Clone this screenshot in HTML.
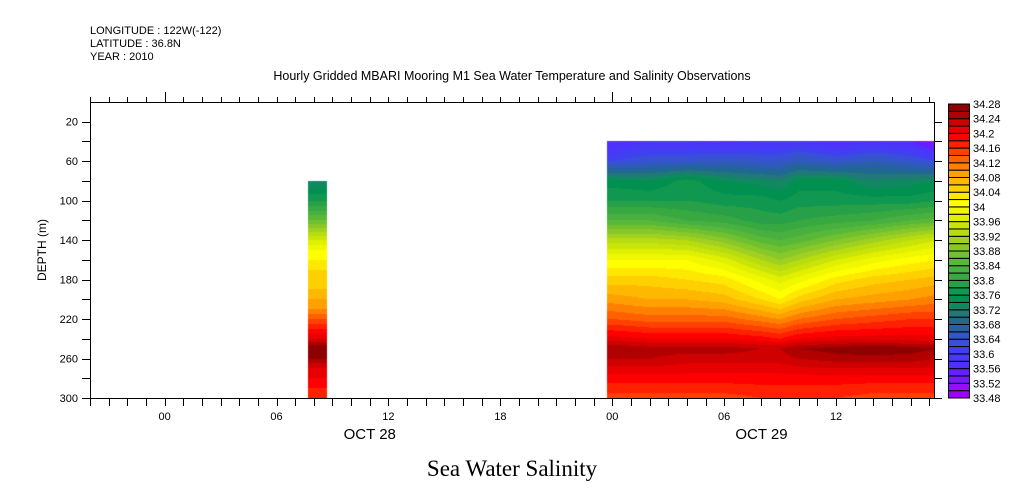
<!DOCTYPE html>
<html><head><meta charset="utf-8"><style>
html,body{margin:0;padding:0;background:#fff;}
body{width:1009px;height:504px;position:relative;overflow:hidden;font-family:"Liberation Sans",sans-serif;}
svg{position:absolute;left:0;top:0;}
</style></head><body>
<svg id="chart" width="1009" height="504" xmlns="http://www.w3.org/2000/svg">
  <g font-size="11" fill="#000">
    <text x="90" y="34">LONGITUDE : 122W(-122)</text>
    <text x="90" y="47">LATITUDE : 36.8N</text>
    <text x="90" y="60">YEAR : 2010</text>
  </g>
  <text x="512" y="80" text-anchor="middle" font-size="12.5">Hourly Gridded MBARI Mooring M1 Sea Water Temperature and Salinity Observations</text>
  <foreignObject x="90" y="102" width="844" height="296">
    <canvas id="cv" width="844" height="296" xmlns="http://www.w3.org/1999/xhtml" style="display:block"></canvas>
  </foreignObject>
  <g id="axes"></g>
  <g id="cbar"></g>
  <text transform="translate(46,250) rotate(-90)" text-anchor="middle" font-size="12">DEPTH (m)</text>
  <text x="512" y="476" text-anchor="middle" font-family="Liberation Serif, serif" font-size="23">Sea Water Salinity</text>
</svg>
<script>
const depths=[40,60,80,100,120,140,160,180,200,220,240,250,260,280,300];
const hours=[24,26,28,30,32,33,34,36,38,40,41.5];
const salinity=[
[33.56,33.58,33.58,33.57,33.58,33.58,33.58,33.56,33.57,33.56,33.50],
[33.62,33.64,33.64,33.65,33.64,33.64,33.66,33.64,33.66,33.64,33.62],
[33.75,33.74,33.77,33.74,33.73,33.72,33.75,33.75,33.72,33.73,33.74],
[33.78,33.78,33.78,33.77,33.77,33.76,33.77,33.77,33.77,33.77,33.78],
[33.84,33.84,33.82,33.81,33.79,33.79,33.80,33.81,33.82,33.84,33.85],
[33.93,33.93,33.92,33.89,33.85,33.84,33.85,33.88,33.91,33.94,33.96],
[34.00,34.00,34.00,33.97,33.92,33.90,33.92,33.96,33.99,34.01,34.02],
[34.05,34.05,34.04,34.03,33.99,33.97,33.99,34.03,34.05,34.06,34.07],
[34.09,34.08,34.08,34.07,34.04,34.02,34.05,34.08,34.09,34.10,34.11],
[34.14,34.13,34.13,34.13,34.11,34.10,34.12,34.14,34.15,34.16,34.16],
[34.21,34.20,34.20,34.20,34.19,34.18,34.20,34.21,34.21,34.21,34.21],
[34.26,34.25,34.25,34.25,34.24,34.24,34.26,34.27,34.28,34.27,34.26],
[34.24,34.24,34.23,34.23,34.23,34.23,34.24,34.25,34.25,34.25,34.24],
[34.19,34.19,34.19,34.19,34.19,34.19,34.19,34.19,34.19,34.19,34.19],
[34.15,34.15,34.15,34.15,34.16,34.16,34.16,34.16,34.15,34.15,34.15]];
const stripHour=8;
const stripDepths=[80,100,120,140,150,170,190,210,220,230,240,250,260,270,280,290,300];
const stripValues=[33.72,33.78,33.86,33.96,34.0,34.04,34.06,34.1,34.14,34.18,34.22,34.28,34.26,34.22,34.2,34.18,34.16];
const levels=[33.48,33.52,33.56,33.6,33.64,33.68,33.72,33.76,33.8,33.84,33.88,33.92,33.96,34,34.04,34.08,34.12,34.16,34.2,34.24,34.28];
const yTicks=[20,60,100,140,180,220,260,300];
const xTickHours=[0,6,12,18,24,30,36];
const xTickLabels=["00","06","12","18","00","06","12"];
const dayLabels=["OCT 28","OCT 29"];
const dayLabelHours=[11,32];

const X0=90,X1=934,Y0=102,Y1=398,H0=-4,H1=41.25,D0=0,D1=300;
const xs=h=>X0+(h-H0)/(H1-H0)*(X1-X0);
const ys=d=>Y0+(d-D0)/(D1-D0)*(Y1-Y0);
const anchors=["#a000ff","#9010ff","#7818ff","#6020ff","#5030ff","#4838f8","#4040f0","#3850d8","#3058c0","#2860a8",
"#206890","#207878","#108860","#009050","#109850","#28a048","#38a840","#48b040","#58b838","#70c030",
"#88c828","#a0d020","#b8dc10","#c8e408","#e0f000","#f0f800","#ffff00","#ffe800","#ffd000","#ffb800",
"#ffa000","#ff8000","#ff6000","#ff4000","#ff2000","#ff0000","#e80000","#d00000","#b00000","#900000"];
const NS="http://www.w3.org/2000/svg";
function colorFor(v){let i=Math.floor((v-33.48)/0.02+1e-9);i=Math.max(0,Math.min(39,i));return anchors[i];}
function interp1(arr,vals,x){if(x<=arr[0])return vals[0];for(let i=0;i<arr.length-1;i++){if(x<=arr[i+1]){const t=(x-arr[i])/(arr[i+1]-arr[i]);return vals[i]+t*(vals[i+1]-vals[i]);}}return vals[vals.length-1];}
const cv=document.getElementById('cv');const ctx=cv.getContext('2d');
const bx0=xs(hours[0]-0.3),bx1=X1,by0=ys(depths[0]);
for(let px=Math.round(bx0);px<bx1;px++){
  const h=H0+(px+0.5-X0)/(X1-X0)*(H1-H0);
  const col=salinity.map(r=>interp1(hours,r,h));
  for(let py=Math.round(by0);py<Y1;py++){
    const d=D0+(py+0.5-Y0)/(Y1-Y0)*(D1-D0);
    ctx.fillStyle=colorFor(interp1(depths,col,d));
    ctx.fillRect(px-X0,py-Y0,1,1);
  }
}
const sx0=Math.round(xs(stripHour-0.3)),sx1=Math.round(xs(stripHour+0.7));
for(let py=Math.round(ys(stripDepths[0]));py<Y1;py++){
  const d=D0+(py+0.5-Y0)/(Y1-Y0)*(D1-D0);
  ctx.fillStyle=colorFor(interp1(stripDepths,stripValues,d));
  ctx.fillRect(sx0-X0,py-Y0,sx1-sx0,1);
}
const ax=document.getElementById('axes');
function line(x1,y1,x2,y2,name){const l=document.createElementNS(NS,'line');l.setAttribute('x1',x1);l.setAttribute('y1',y1);l.setAttribute('x2',x2);l.setAttribute('y2',y2);l.setAttribute('stroke','#000');l.setAttribute('stroke-width','1');


ax.appendChild(l);return l;}
function text(x,y,s,anchor,size,name,parent){const t=document.createElementNS(NS,'text');t.setAttribute('x',x);t.setAttribute('y',y);t.setAttribute('text-anchor',anchor);t.setAttribute('font-size',size);t.textContent=s;


(parent||ax).appendChild(t);return t;}
const r=document.createElementNS(NS,'rect');r.setAttribute('x',X0+0.5);r.setAttribute('y',Y0+0.5);r.setAttribute('width',X1-X0);r.setAttribute('height',Y1-Y0);r.setAttribute('fill','none');r.setAttribute('stroke','#000');


ax.appendChild(r);
for(let d=20;d<=300;d+=20){const y=Math.round(ys(d))+0.5;line(X0-8,y,X0,y,'y-tick');line(X1,y,X1+8,y,'y-tick-right');}
yTicks.forEach(d=>text(X0-12,ys(d)+4,String(d),'end',11,'y-tick-label'));
for(let h=-4;h<=41;h++){const x=Math.round(xs(h))+0.5;line(x,Y1,x,Y1+8,'x-tick');const major=(h%24===0);line(x,Y0-(major?10:5),x,Y0,'x-tick-top');}
xTickHours.forEach((h,i)=>text(xs(h),Y1+22,xTickLabels[i],'middle',11,'x-tick-label'));
dayLabels.forEach((s,i)=>text(xs(dayLabelHours[i]),Y1+41,s,'middle',15,'day-label'));
const cb=document.getElementById('cbar');const CX=948,CW=21,CY0=104,CY1=398;const bh=(CY1-CY0)/40;
for(let i=0;i<40;i++){const rr=document.createElementNS(NS,'rect');rr.setAttribute('x',CX+0.5);rr.setAttribute('y',CY1-(i+1)*bh);rr.setAttribute('width',CW);rr.setAttribute('height',bh);rr.setAttribute('fill',anchors[i]);rr.setAttribute('stroke','#000');rr.setAttribute('stroke-width','1');


cb.appendChild(rr);}
levels.forEach((v,i)=>text(CX+CW+4,CY1-i*bh*2+4,String(v),'start',11,'colorbar-label',cb));
</script>
</body></html>
